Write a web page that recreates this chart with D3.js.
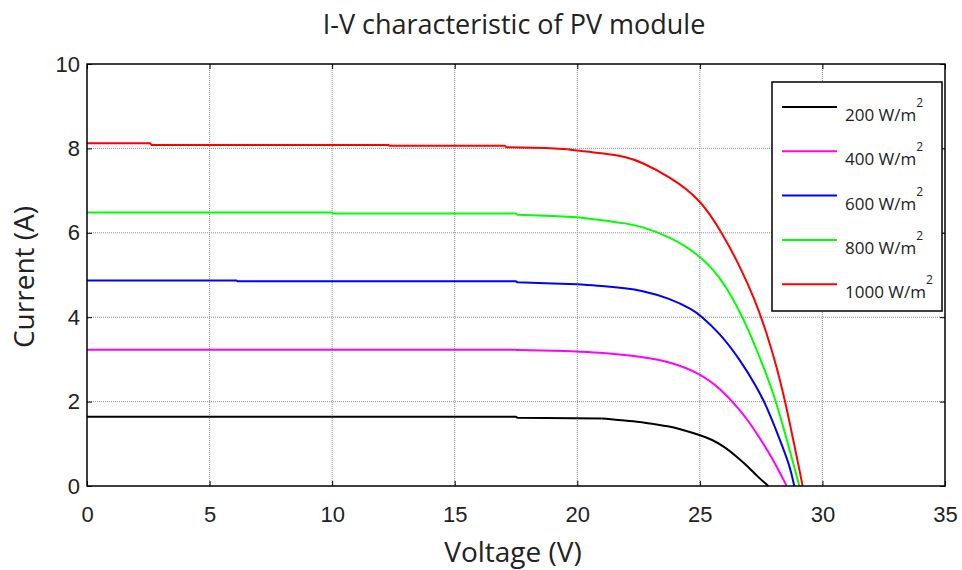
<!DOCTYPE html>
<meta charset="utf-8">
<style>
body { margin: 0; background: #fff; }
svg { font-family: "Open Sans", sans-serif; }
.grid line { stroke: #8c8c8c; stroke-width: 1; stroke-dasharray: 1,1; }
.axis text { font-size: 22px; fill: #222; }
.axis path { display: none; }
.axis line { stroke: #000; }
</style>
<body>
<svg width="962" height="570"></svg>
<script src="https://d3js.org/d3.v7.min.js"></script>
<script>

// series labels and colours
var irradiance = ["200", "400", "600", "800", "1000"];
var colors = ["#000000", "#ff00ff", "#0000ff", "#00ff00", "#ff0000"];

// voltage (V) and current (A) per curve
var v200 = [0, 17.5, 17.55, 21, 22, 22.56, 23, 23.78, 24, 25, 25.5, 26, 26.5, 27, 27.32, 27.79];
var i200 = [1.64, 1.64, 1.62, 1.60, 1.55, 1.52, 1.48, 1.41, 1.38, 1.21, 1.10, 0.93, 0.70, 0.44, 0.24, 0];

var v400 = [0, 17.5, 17.55, 19.5, 21, 22, 22.56, 23.78, 25, 25.82, 26.64, 27, 27.32, 28, 28.54];
var i400 = [3.23, 3.23, 3.22, 3.20, 3.16, 3.10, 3.06, 2.95, 2.67, 2.32, 1.80, 1.52, 1.25, 0.62, 0];

var v600 = [0, 6.1, 6.15, 17.5, 17.55, 19, 20, 21, 22, 22.56, 23.78, 24.73, 25, 25.82, 26.64, 27.32, 27.73, 28.27, 28.68, 28.85];
var i600 = [4.87, 4.87, 4.85, 4.85, 4.83, 4.80, 4.78, 4.74, 4.68, 4.64, 4.45, 4.17, 4.05, 3.62, 2.99, 2.35, 1.88, 1.09, 0.46, 0];

var v800 = [0, 10, 10.05, 17.5, 17.55, 19, 20, 21, 22, 22.56, 23.78, 25, 25.82, 26.5, 27.05, 27.59, 28.0, 28.4, 28.81, 29.06];
var i800 = [6.48, 6.48, 6.46, 6.46, 6.43, 6.40, 6.37, 6.30, 6.22, 6.16, 5.91, 5.47, 4.96, 4.29, 3.62, 2.83, 2.20, 1.41, 0.54, 0];

var v1000 = [0, 2.58, 2.63, 12.3, 12.35, 17.05, 17.1, 18.7, 19.6, 20, 21, 22, 22.56, 23.78, 25, 25.89, 26.64, 27.25, 27.73, 28.13, 28.47, 28.81, 29.09, 29.19];
var i1000 = [8.12, 8.12, 8.08, 8.08, 8.06, 8.06, 8.03, 8.01, 7.98, 7.95, 7.89, 7.80, 7.69, 7.33, 6.81, 6.02, 5.20, 4.41, 3.62, 2.83, 2.04, 1.09, 0.31, 0];

var kneeStart = 19.5; // flat part drawn straight, knee drawn smooth

var xTicks = [0, 5, 10, 15, 20, 25, 30, 35];
var yTicks = [0, 2, 4, 6, 8, 10];

var voltages = [v200, v400, v600, v800, v1000];
var currents = [i200, i400, i600, i800, i1000];

var svg = d3.select("svg"),
    margin = {top: 64, right: 17, bottom: 84, left: 87},
    width = +svg.attr("width") - margin.left - margin.right,
    height = +svg.attr("height") - margin.top - margin.bottom;

var x = d3.scaleLinear().domain([0, 35]).range([0, width]),
    y = d3.scaleLinear().domain([0, 10]).range([height, 0]);

var g = svg.append("g")
    .attr("transform", "translate(" + margin.left + "," + margin.top + ")");

// grid
var grid = g.append("g").attr("class", "grid");
grid.selectAll(".gx").data(xTicks.slice(1, -1)).enter().append("line")
    .attr("x1", function(d) { return x(d); }).attr("x2", function(d) { return x(d); })
    .attr("y1", 0).attr("y2", height);
grid.selectAll(".gy").data(yTicks.slice(1, -1)).enter().append("line")
    .attr("y1", function(d) { return y(d); }).attr("y2", function(d) { return y(d); })
    .attr("x1", 0).attr("x2", width);

// curves
var flatLine = d3.line()
    .x(function(d) { return x(d[0]); })
    .y(function(d) { return y(d[1]); });
var kneeLine = d3.line()
    .curve(d3.curveBasis)
    .x(function(d) { return x(d[0]); })
    .y(function(d) { return y(d[1]); });

voltages.forEach(function(vs, k) {
  var pts = vs.map(function(v, j) { return [v, currents[k][j]]; });
  var split = pts.findIndex(function(p) { return p[0] >= kneeStart; });
  [[pts.slice(0, split + 1), flatLine], [pts.slice(split), kneeLine]].forEach(function(part) {
    g.append("path")
        .datum(part[0])
        .attr("fill", "none")
        .attr("stroke", colors[k])
        .attr("stroke-width", 2)
        .attr("stroke-linejoin", "round")
        .attr("d", part[1]);
  });
});

// axes with inward ticks on all four sides
g.append("g").attr("class", "axis")
    .attr("transform", "translate(0," + height + ")")
    .call(d3.axisBottom(x).tickValues(xTicks).tickSizeInner(-5).tickSizeOuter(0).tickPadding(20));
g.append("g").attr("class", "axis")
    .call(d3.axisLeft(y).tickValues(yTicks).tickSizeInner(-5).tickSizeOuter(0).tickPadding(7));
g.append("g").attr("class", "axis")
    .call(d3.axisTop(x).tickValues(xTicks).tickSizeInner(-5).tickSizeOuter(0).tickFormat(""));
g.append("g").attr("class", "axis")
    .attr("transform", "translate(" + width + ",0)")
    .call(d3.axisRight(y).tickValues(yTicks).tickSizeInner(-5).tickSizeOuter(0).tickFormat(""));

g.append("rect")
    .attr("width", width).attr("height", height)
    .attr("fill", "none").attr("stroke", "#000").attr("stroke-width", 1.5);

// legend
var legend = svg.append("g").attr("transform", "translate(772,82)");
legend.append("rect")
    .attr("width", 170).attr("height", 229)
    .attr("fill", "#fff").attr("stroke", "#000").attr("stroke-width", 1.5);
irradiance.forEach(function(lbl, k) {
  var yy = 25 + k * 44.3;
  legend.append("line")
      .attr("x1", 10).attr("x2", 65).attr("y1", yy).attr("y2", yy)
      .attr("stroke", colors[k]).attr("stroke-width", 2);
  var t = legend.append("text")
      .attr("x", 73).attr("y", yy + 14)
      .style("font-size", "17px").style("fill", "#222");
  t.append("tspan").text(lbl + " W/m");
  t.append("tspan").attr("dy", -14).style("font-size", "12px").text("2");
});

// titles
svg.append("text")
    .attr("x", 514).attr("y", 34)
    .attr("text-anchor", "middle")
    .style("font-size", "27px").style("fill", "#222")
    .text("I-V characteristic of PV module");

svg.append("text")
    .attr("x", 513).attr("y", 562)
    .attr("text-anchor", "middle")
    .style("font-size", "28px").style("fill", "#222")
    .text("Voltage (V)");

svg.append("text")
    .attr("transform", "translate(34,277) rotate(-90)")
    .attr("text-anchor", "middle")
    .style("font-size", "28px").style("fill", "#222")
    .text("Current (A)");

</script>
